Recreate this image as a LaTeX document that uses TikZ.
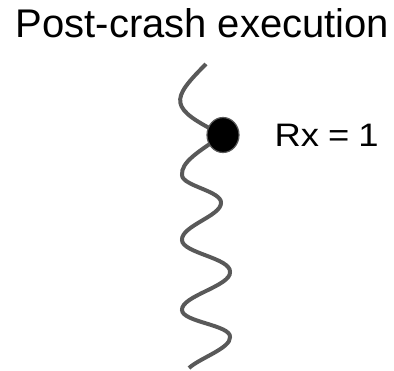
\documentclass[tikz,border=0pt]{standalone}
\usepackage{fontspec}
\setmainfont{Liberation Sans}
\usetikzlibrary{shapes.geometric}
\definecolor{wavegray}{RGB}{89,89,89}
\tikzset{
  wave/.style={draw=wavegray, line width=4pt, line cap=butt},
  dotnode/.style={ellipse, fill=black, draw=wavegray, line width=1.2pt, minimum width=32pt, minimum height=35pt, inner sep=0pt},
  label/.style={inner sep=0pt, font=\fontsize{32.5}{38}\selectfont},
  titletext/.style={inner sep=0pt, font=\fontsize{40}{48}\selectfont}
}
\begin{document}
\begin{tikzpicture}[x=1pt,y=-1pt]
\useasboundingbox (0,0) rectangle (394,370);
\node[titletext, anchor=base] (title) at (202.5,37) {Post-crash execution};
\coordinate (top) at (206,64);
\coordinate (d) at (223,135);
\coordinate (l1) at (182,175);
\coordinate (r1) at (221,203);
\coordinate (l2) at (182,240);
\coordinate (r2) at (230,272);
\coordinate (l3) at (182,310);
\coordinate (r3) at (230,337);
\coordinate (bot) at (189,368);
\draw[wave] (top) .. controls (170,100) and (168,108) .. (d);
\draw[wave] (d) .. controls (198,152) and (181,162) .. (l1)
  .. controls (182,186) and (222,191) .. (r1)
  .. controls (221,216) and (181,226) .. (l2)
  .. controls (182,253) and (231,258) .. (r2)
  .. controls (231,286) and (181,296) .. (l3)
  .. controls (182,322) and (231,325) .. (r3)
  .. controls (231,348) and (200,358) .. (bot);
\node[dotnode] (dot) at (d) {};
\node[label, anchor=base west] (rx) at (274.5,146) {\scalebox{1.12}[1]{Rx\hspace{8pt}=\hspace{8pt}1}};
\end{tikzpicture}
\end{document}
